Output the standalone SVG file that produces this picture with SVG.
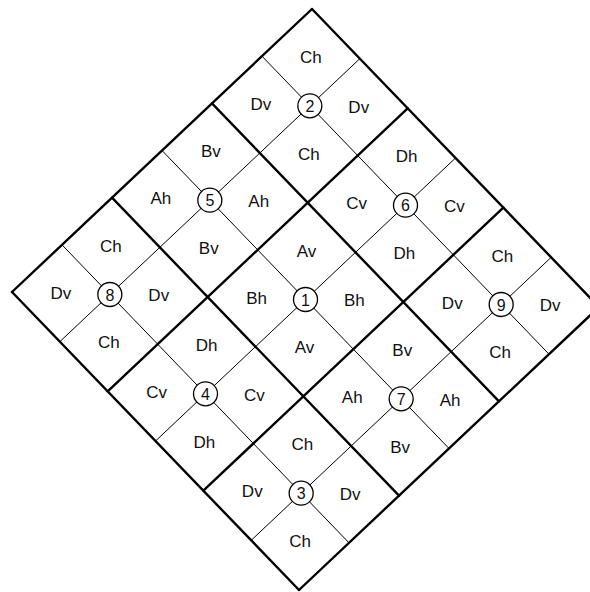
<svg xmlns="http://www.w3.org/2000/svg" width="590" height="592" viewBox="0 0 590 592">
<style>
.thick{stroke:#000;stroke-width:2.4;fill:none;stroke-linecap:round}
.thin{stroke:#000;stroke-width:1;fill:none}
.lbl{font-family:"Liberation Sans",Arial,sans-serif;font-size:17px;fill:#111;text-anchor:middle;dominant-baseline:central}
.num{font-family:"Liberation Sans",Arial,sans-serif;font-size:16px;fill:#111;text-anchor:middle;dominant-baseline:central}
.ring{fill:#fff;stroke:#000;stroke-width:1.3}
</style>
<rect width="590" height="592" fill="#fff"/>
<g id="connectors">
<line class="thin" x1="359.83" y1="58.67" x2="59.83" y2="341.67"/>
<line class="thin" x1="455.5" y1="158" x2="155.5" y2="441"/>
<line class="thin" x1="551.17" y1="257.33" x2="251.17" y2="540.33"/>
<line class="thin" x1="262" y1="56.17" x2="549" y2="354.17"/>
<line class="thin" x1="162" y1="150.5" x2="449" y2="448.5"/>
<line class="thin" x1="62" y1="244.83" x2="349" y2="542.83"/>
<line class="thick" x1="312" y1="9" x2="12" y2="292"/>
<line class="thick" x1="407.67" y1="108.33" x2="107.67" y2="391.33"/>
<line class="thick" x1="503.33" y1="207.67" x2="203.33" y2="490.67"/>
<line class="thick" x1="599" y1="307" x2="299" y2="590"/>
<line class="thick" x1="312" y1="9" x2="599" y2="307"/>
<line class="thick" x1="212" y1="103.33" x2="499" y2="401.33"/>
<line class="thick" x1="112" y1="197.67" x2="399" y2="495.67"/>
<line class="thick" x1="12" y1="292" x2="299" y2="590"/>
</g>
<g id="node2">
<circle class="ring" cx="309.83" cy="105.83" r="12"/><text class="num" x="309.83" y="106.3">2</text>
<text class="lbl" x="310.9" y="57.4">Ch</text><text class="lbl" x="308.75" y="154.25">Ch</text>
<text class="lbl" x="260.9" y="104.6">Dv</text><text class="lbl" x="358.75" y="107.1">Dv</text>
</g>
<g id="node6">
<circle class="ring" cx="405.5" cy="205.17" r="12"/><text class="num" x="405.5" y="205.6">6</text>
<text class="lbl" x="406.6" y="156.75">Dh</text><text class="lbl" x="404.4" y="253.6">Dh</text>
<text class="lbl" x="356.6" y="203.9">Cv</text><text class="lbl" x="454.4" y="206.4">Cv</text>
</g>
<g id="node9">
<circle class="ring" cx="501.17" cy="304.5" r="12"/><text class="num" x="501.17" y="305">9</text>
<text class="lbl" x="502.25" y="256.1">Ch</text><text class="lbl" x="500.1" y="352.9">Ch</text>
<text class="lbl" x="452.25" y="303.25">Dv</text><text class="lbl" x="550.1" y="305.75">Dv</text>
</g>
<g id="node5">
<circle class="ring" cx="209.83" cy="200.17" r="12"/><text class="num" x="209.83" y="200.6">5</text>
<text class="lbl" x="210.9" y="151.75">Bv</text><text class="lbl" x="208.75" y="248.6">Bv</text>
<text class="lbl" x="160.9" y="198.9">Ah</text><text class="lbl" x="258.75" y="201.4">Ah</text>
</g>
<g id="node1">
<circle class="ring" cx="305.5" cy="299.5" r="12"/><text class="num" x="305.5" y="300">1</text>
<text class="lbl" x="306.6" y="251.1">Av</text><text class="lbl" x="304.4" y="347.9">Av</text>
<text class="lbl" x="256.6" y="298.25">Bh</text><text class="lbl" x="354.4" y="300.75">Bh</text>
</g>
<g id="node7">
<circle class="ring" cx="401.17" cy="398.83" r="12"/><text class="num" x="401.17" y="399.3">7</text>
<text class="lbl" x="402.25" y="350.4">Bv</text><text class="lbl" x="400.1" y="447.25">Bv</text>
<text class="lbl" x="352.25" y="397.6">Ah</text><text class="lbl" x="450.1" y="400.1">Ah</text>
</g>
<g id="node8">
<circle class="ring" cx="109.83" cy="294.5" r="12"/><text class="num" x="109.83" y="295">8</text>
<text class="lbl" x="110.9" y="246.1">Ch</text><text class="lbl" x="108.75" y="342.9">Ch</text>
<text class="lbl" x="60.9" y="293.25">Dv</text><text class="lbl" x="158.75" y="295.75">Dv</text>
</g>
<g id="node4">
<circle class="ring" cx="205.5" cy="393.83" r="12"/><text class="num" x="205.5" y="394.3">4</text>
<text class="lbl" x="206.6" y="345.4">Dh</text><text class="lbl" x="204.4" y="442.25">Dh</text>
<text class="lbl" x="156.6" y="392.6">Cv</text><text class="lbl" x="254.4" y="395.1">Cv</text>
</g>
<g id="node3">
<circle class="ring" cx="301.17" cy="493.17" r="12"/><text class="num" x="301.17" y="493.6">3</text>
<text class="lbl" x="302.25" y="444.75">Ch</text><text class="lbl" x="300.1" y="541.6">Ch</text>
<text class="lbl" x="252.25" y="491.9">Dv</text><text class="lbl" x="350.1" y="494.4">Dv</text>
</g>
</svg>
